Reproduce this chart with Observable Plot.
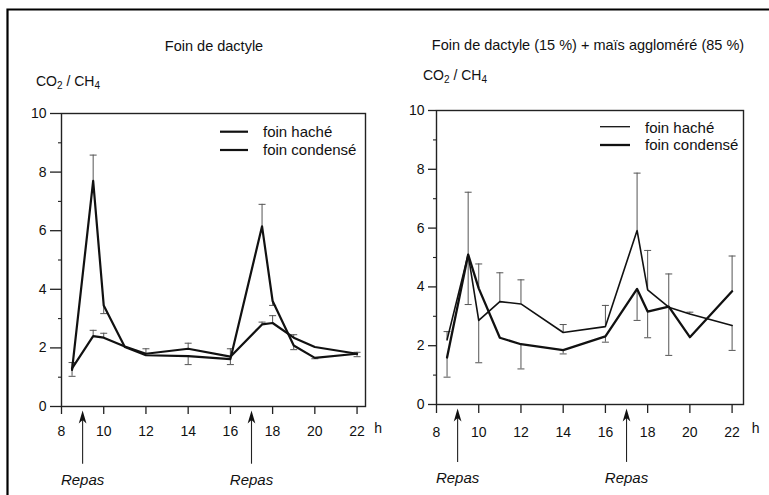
<!DOCTYPE html>
<html><head><meta charset="utf-8">
<script src="https://cdn.jsdelivr.net/npm/d3@7"></script>
<script src="https://cdn.jsdelivr.net/npm/@observablehq/plot@0.6"></script>
<style>
body{margin:0;background:#fff;overflow:hidden;font-family:"Liberation Sans",Arial,sans-serif;}
#wrap{position:relative;width:769px;height:495px;overflow:hidden;background:#fff;}
.panel{position:absolute;top:0;}
#overlay{position:absolute;left:0;top:0;pointer-events:none;}
</style></head><body>
<div id="wrap"></div>
<script>
// ---- data ----
const hours = [8.5, 9.5, 10, 11, 12, 14, 16, 17.5, 18, 19, 20, 22];
const leftHache    = [1.25, 7.7, 3.45, 2.03, 1.75, 1.72, 1.62, 6.15, 3.6, 2.08, 1.66, 1.8];
const leftCondense = [1.3, 2.4, 2.35, 2.05, 1.8, 1.97, 1.7, 2.8, 2.85, 2.35, 2.03, 1.8];
const rightHache    = [2.2, 5.1, 2.86, 3.5, 3.42, 2.45, 2.65, 5.92, 3.9, 3.31, 3.08, 2.69];
const rightCondense = [1.6, 5.1, 3.95, 2.27, 2.05, 1.85, 2.32, 3.93, 3.16, 3.33, 2.29, 3.85];
// error bars: [hour, mean, capped end]
const leftErrors = [
  [8.5,1.25,1.03],[8.5,1.3,1.5],[9.5,7.7,8.58],[9.5,2.4,2.6],[10,3.45,3.17],[10,2.35,2.5],
  [12,1.8,1.97],[14,1.97,2.16],[14,1.72,1.43],[16,1.7,1.97],[16,1.62,1.43],
  [17.5,6.15,6.9],[17.5,2.8,2.88],[18,3.6,3.45],[18,2.85,3.1],[19,2.35,2.45],[19,2.08,1.94],
  [20,1.66,1.63],[22,1.8,1.85],[22,1.8,1.7]
];
const rightErrors = [
  [8.5,2.2,2.48],[8.5,1.6,0.93],[9.5,5.1,7.22],[9.5,5.1,3.4],[10,3.95,4.78],[10,2.86,1.42],
  [11,3.5,4.48],[12,3.42,4.24],[12,2.05,1.21],[14,2.45,2.72],[14,1.85,1.72],
  [16,2.65,3.37],[16,2.32,2.12],[17.5,5.92,7.87],[17.5,3.93,2.86],[18,3.9,5.24],[18,3.16,2.27],
  [19,3.33,4.44],[19,3.31,1.67],[20,3.08,3.14],[22,3.85,5.05],[22,2.69,1.84]
];
const repas = [9, 17];
const yMajor = [0, 2, 4, 6, 8, 10];
const yMinor = [1, 3, 5, 7, 9];
const xTicks = [8, 10, 12, 14, 16, 18, 20, 22];
const titles = ["Foin de dactyle", "Foin de dactyle (15 %) + maïs aggloméré (85 %)"];
const legendLabels = ["foin haché", "foin condensé"];
const mealLabel = "Repas";
const unitLabel = "h";

// ---- symbols ----
const capSymbol = {draw(ctx, size){ const w = Math.sqrt(size/Math.PI); ctx.moveTo(-w,0); ctx.lineTo(w,0); }};
const arrowSymbol = {draw(ctx, size){ const s = Math.sqrt(size/Math.PI);
  ctx.moveTo(0,0); ctx.lineTo(-0.55*s,1.85*s); ctx.lineTo(0,1.35*s); ctx.lineTo(0.55*s,1.85*s); ctx.closePath(); }};

function makePanel(o){
  const errs = o.errors.map(([t, from, to]) => ({t, from, to}));
  return Plot.plot({
    width: o.width, height: 495,
    marginLeft: o.ml, marginRight: o.mr, marginTop: o.mt, marginBottom: o.mb,
    x: {domain: [8, o.xMax]},
    y: {domain: [0, 10]},
    style: {fontFamily: "Liberation Sans, Arial, sans-serif", fontSize: "14px", color: "#111", background: "transparent", overflow: "visible"},
    marks: [
      Plot.frame({stroke: "#222", strokeWidth: 1.4}),
      Plot.axisY({ticks: yMajor, tickSize: o.tickY, tickPadding: 4, label: null, stroke: "#222", strokeWidth: 1.3, fontSize: 14}),
      Plot.axisY({ticks: yMinor, tickSize: 3, tickFormat: () => "", label: null, stroke: "#222", strokeWidth: 1.1}),
      Plot.axisX({ticks: xTicks, tickSize: o.tickX, tickPadding: o.padX, label: null, stroke: "#222", strokeWidth: 1.3, fontSize: 14}),
      Plot.ruleX(errs, {x: "t", y1: "from", y2: "to", stroke: "#555", strokeWidth: 1}),
      Plot.dot(errs, {x: "t", y: "to", symbol: capSymbol, r: 3.5, fill: "none", stroke: "#555", strokeWidth: 1}),
      Plot.line(hours, {x: hours, y: o.hache, stroke: "#111", strokeWidth: o.wH}),
      Plot.line(hours, {x: hours, y: o.condense, stroke: "#111", strokeWidth: o.wC}),
      Plot.ruleX(repas, {x: d => d, y1: -1.97, y2: -0.4, stroke: "#222", strokeWidth: 1.1}),
      Plot.dot(repas, {x: d => d, y: -0.14, symbol: arrowSymbol, r: 7, fill: "#111", stroke: "none"}),
      Plot.text(repas, {x: d => d, y: -2.5, text: () => mealLabel, fontStyle: "italic", fontSize: 15, fill: "#111"}),
      Plot.text([unitLabel], {frameAnchor: "bottom-right", text: d => d, dx: o.hdx, dy: o.hdy, fontSize: 14, fill: "#111"})
    ]
  });
}

const wrap = document.getElementById("wrap");
const left = makePanel({width: 384, ml: 61, mr: 19, mt: 113, mb: 89, xMax: 22.4,
  hache: leftHache, condense: leftCondense, errors: leftErrors, wH: 2.2, wC: 2.2,
  tickY: 11, tickX: 8, padX: 12, hdx: 16.5, hdy: 26.5});
const right = makePanel({width: 385, ml: 52, mr: 26, mt: 110, mb: 91, xMax: 22.54,
  hache: rightHache, condense: rightCondense, errors: rightErrors, wH: 1.6, wC: 2.3,
  tickY: 8, tickX: 9, padX: 14, hdx: 16, hdy: 28});
const d1 = document.createElement("div"); d1.className = "panel"; d1.style.left = "0px"; d1.appendChild(left);
const d2 = document.createElement("div"); d2.className = "panel"; d2.style.left = "384px"; d2.appendChild(right);
wrap.appendChild(d1); wrap.appendChild(d2);

// ---- overlay texts (titles, y label, legends, page border) ----
const ns = "http://www.w3.org/2000/svg";
const ov = d3.select(wrap).append("svg").attr("id", "overlay").attr("width", 769).attr("height", 495)
  .style("font-family", "Liberation Sans, Arial, sans-serif").attr("fill", "#111");
ov.append("path").attr("d", "M7.5,495V9.5H769").attr("fill", "none").attr("stroke", "#000").attr("stroke-width", 2.2);
ov.append("text").attr("x", 214).attr("y", 51).attr("text-anchor", "middle").attr("font-size", 14.5).text(titles[0]);
ov.append("text").attr("x", 588).attr("y", 50).attr("text-anchor", "middle").attr("font-size", 14.5).text(titles[1]);
function ylab(x, y){
  const t = ov.append("text").attr("x", x).attr("y", y).attr("font-size", 14);
  t.append("tspan").text("CO");
  t.append("tspan").attr("font-size", 10).attr("dy", 3).text("2");
  t.append("tspan").attr("dy", -3).text(" / CH");
  t.append("tspan").attr("font-size", 10).attr("dy", 3).text("4");
}
ylab(36, 86); ylab(423, 80);
function legend(x1, x2, tx, ys, bs, ws){
  legendLabels.forEach((lab, i) => {
    ov.append("line").attr("x1", x1).attr("x2", x2).attr("y1", ys[i]).attr("y2", ys[i]).attr("stroke", "#111").attr("stroke-width", ws[i]);
    ov.append("text").attr("x", tx).attr("y", bs[i]).attr("font-size", 15).text(lab);
  });
}
legend(220, 248, 263, [131.7, 150], [136.5, 155], [2.2, 2.2]);
legend(600, 630, 645, [126.7, 145], [133, 150], [1.3, 2.3]);
</script>
</body></html>
